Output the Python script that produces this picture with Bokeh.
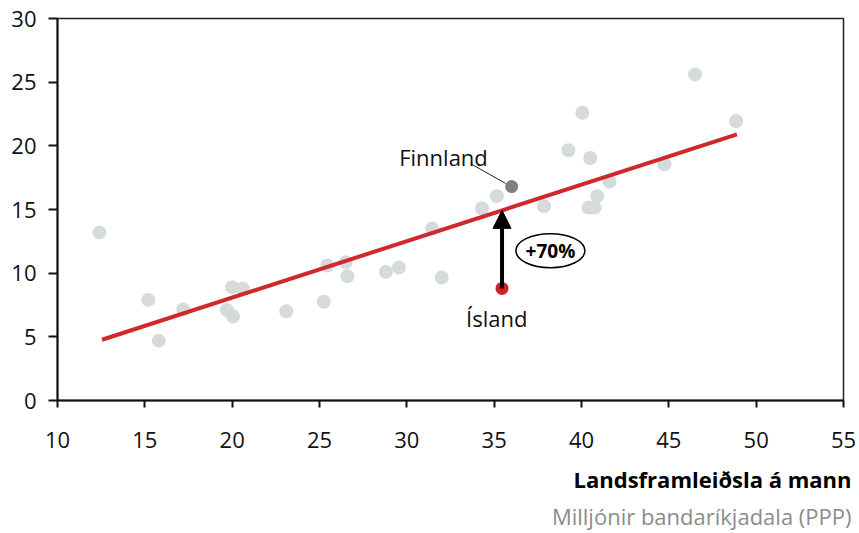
import numpy as np
from bokeh.plotting import figure
from bokeh.models import Range1d, FixedTicker, Label, Arrow, NormalHead, Title
from bokeh.core.properties import value
from bokeh.embed import file_html
from bokeh.resources import INLINE

FONT = "Open Sans"

# Data: GDP per capita (x) vs value (y)
gdp = [12.4, 15.2, 15.8, 17.2, 19.7, 20.05, 20.0, 20.6, 23.1, 25.25, 25.45, 26.5, 26.6,
       28.8, 29.55, 31.45, 32.0, 34.3, 35.15, 37.85, 39.25, 40.05, 40.5, 40.4, 40.75,
       40.9, 41.6, 44.75, 46.5, 48.85]
val = [13.2, 7.9, 4.7, 7.15, 7.1, 6.6, 8.9, 8.8, 7.0, 7.75, 10.6, 10.85, 9.75,
       10.1, 10.45, 13.5, 9.65, 15.1, 16.05, 15.25, 19.65, 22.6, 19.05, 15.15, 15.15,
       16.05, 17.2, 18.55, 25.6, 21.95]
finnland = (36.0, 16.8)
island = (35.45, 8.8)
trend_x = [12.55, 48.9]
trend_y = [4.77, 20.9]
x_ticks = [10, 15, 20, 25, 30, 35, 40, 45, 50, 55]
y_ticks = [0, 5, 10, 15, 20, 25, 30]
pct_label = "+70%"
x_title = "Landsframleiðsla á mann"
x_subtitle = "Milljónir bandaríkjadala (PPP)"

p = figure(width=859, height=533, output_backend="svg", toolbar_location=None,
           x_range=Range1d(10, 55), y_range=Range1d(0, 30),
           min_border_left=57, min_border_right=16, min_border_top=18, min_border_bottom=133)
p.background_fill_color = "white"
p.border_fill_color = "white"
p.grid.visible = False
p.outline_line_color = "#222222"
p.outline_line_width = 1.5

for ax in (p.xaxis[0], p.yaxis[0]):
    ax.axis_line_color = "#111111"
    ax.axis_line_width = 2
    ax.major_tick_line_color = "#111111"
    ax.major_tick_line_width = 2
    ax.minor_tick_line_color = None
    ax.major_tick_in = 0
    ax.major_label_text_font = FONT
    ax.major_label_text_font_size = "22px"
    ax.major_label_text_color = "#111111"

p.xaxis.ticker = FixedTicker(ticks=x_ticks)
p.yaxis.ticker = FixedTicker(ticks=y_ticks)
p.xaxis.major_tick_out = 7
p.yaxis.major_tick_out = 9
p.xaxis.major_label_standoff = 24
p.yaxis.major_label_standoff = 12

# scatter
p.scatter(gdp, val, size=14, fill_color="#D5DADA", line_color=None)
# trend line
p.line(trend_x, trend_y, line_color="#D0282D", line_width=4)
# Finnland
p.scatter([finnland[0]], [finnland[1]], size=13, fill_color="#808080", line_color=None)
# leader line
p.line([finnland[0] - 2.35, finnland[0] - 0.35], [finnland[1] + 1.8, finnland[1] + 0.25],
       line_color="#222222", line_width=1)
p.add_layout(Label(x=finnland[0] - 3.9, y=finnland[1] + 2.3, text="Finnland",
                   text_font=FONT, text_font_size="22px", text_color="#111111",
                   text_align="center", text_baseline="alphabetic"))

# arrow from Ísland up to trend line
top = float(np.interp(island[0], trend_x, trend_y))
p.add_layout(Arrow(end=NormalHead(size=18, fill_color="black", line_color="black"),
                   x_start=island[0], y_start=island[1], x_end=island[0], y_end=top,
                   line_color="black", line_width=4))
p.scatter([island[0]], [island[1]], size=13, fill_color="#CC2229", line_color=None)
p.add_layout(Label(x=island[0] - 0.3, y=island[1] - 2.3, text="Ísland",
                   text_font=FONT, text_font_size="22px", text_color="#111111",
                   text_align="center", text_baseline="alphabetic"))

# +70% ellipse
ex, ey = island[0] + 2.77, (island[1] + top) / 2 - 0.1
p.ellipse([ex], [ey], width=69, height=34, width_units="screen", height_units="screen",
          fill_color="white", line_color="black", line_width=1.5)
p.text([ex], [ey], text=[pct_label], text_font=value(FONT), text_font_size="19px",
       text_font_style="bold", text_align="center", text_baseline="middle", text_color="black")

# axis titles (below, right aligned)
p.add_layout(Title(text=x_title, align="right", offset=-8, text_font=FONT,
                   text_font_size="22px", text_font_style="bold", text_color="black",
                   standoff=22), "below")
p.add_layout(Title(text=x_subtitle, align="right", offset=-8, text_font=FONT,
                   text_font_size="22px", text_font_style="normal", text_color="#8C8C8C",
                   standoff=-12), "below")

open("out.html", "w").write(file_html(p, INLINE))
